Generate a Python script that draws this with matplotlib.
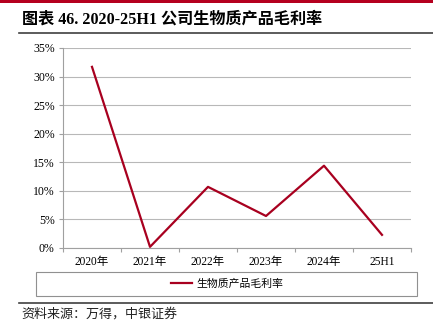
import matplotlib.pyplot as plt
import matplotlib.patches as mpatches
from matplotlib.lines import Line2D
import matplotlib.ticker as mticker
import numpy as np

plt.rcParams['font.family'] = ['Liberation Serif', 'Noto Sans CJK SC']

categories = ['2020年', '2021年', '2022年', '2023年', '2024年', '25H1']
margin = [31.7, 0.2, 10.7, 5.6, 14.4, 2.3]
series_name = '生物质产品毛利率'
title = '图表 46. 2020-25H1 公司生物质产品毛利率'
source = '资料来源：万得，中银证券'

red = '#a8001f'
W, H = 433, 331

fig = plt.figure(figsize=(W / 100, H / 100), dpi=100)

def fx(px):
    return px / W

def fy(py):
    return 1 - py / H

# header bar, title and rules
fig.add_artist(mpatches.Rectangle((0, fy(3)), 1, 3 / H, transform=fig.transFigure,
                                  color='#b5001f', lw=0))
fig.text(fx(22), fy(20), title, fontsize=11.6, fontweight='bold', va='center', ha='left')
fig.add_artist(Line2D([fx(19), 1], [fy(33), fy(33)], color='#404040', lw=1.2))
fig.add_artist(Line2D([fx(19), 1], [fy(303), fy(303)], color='#404040', lw=1.2))
fig.text(fx(21), fy(314), source, fontsize=9.4, va='center', ha='left',
         color='#222222', style='italic')

ax = fig.add_axes([fx(63), fy(248), fx(411) - fx(63), fy(48) - fy(248)])
x = np.arange(len(categories))
ax.plot(x, margin, color=red, lw=1.6)

ax.set_xlim(-0.5, len(categories) - 0.5)
ax.set_ylim(0, 35)
ax.yaxis.set_major_locator(mticker.MultipleLocator(5))
ax.yaxis.set_major_formatter(mticker.FuncFormatter(lambda v, p: f'{v:.0f}%'))
ax.grid(axis='y', color='#b8b8b8', lw=0.8)
ax.set_axisbelow(True)

ax.set_xticks(np.arange(len(categories) + 1) - 0.5)
ax.set_xticklabels([])
ax.set_xticks(x, minor=True)
ax.set_xticklabels(categories, minor=True)
ax.tick_params(axis='x', which='major', length=3, color='#a0a0a0', width=0.8)
ax.tick_params(axis='x', which='minor', length=0, pad=6, labelsize=8.3)
ax.tick_params(axis='y', length=3, color='#a0a0a0', width=0.8, labelsize=8.5, pad=3)

for s in ['top', 'right']:
    ax.spines[s].set_visible(False)
for s in ['left', 'bottom']:
    ax.spines[s].set_color('#a0a0a0')
    ax.spines[s].set_linewidth(0.8)

# legend box
fig.add_artist(mpatches.Rectangle((fx(36), fy(296)), fx(417) - fx(36), (296 - 272) / H,
                                  transform=fig.transFigure, fill=False,
                                  edgecolor='#909090', lw=0.8))
handle = Line2D([], [], color=red, lw=1.6)
fig.legend([handle], [series_name], loc='center', bbox_to_anchor=(fx(227), fy(284)),
           frameon=False, handlelength=2.0, handletextpad=0.4,
           prop={'family': ['Noto Sans CJK SC'], 'size': 7.8})

fig.savefig('out.png', dpi=100)
